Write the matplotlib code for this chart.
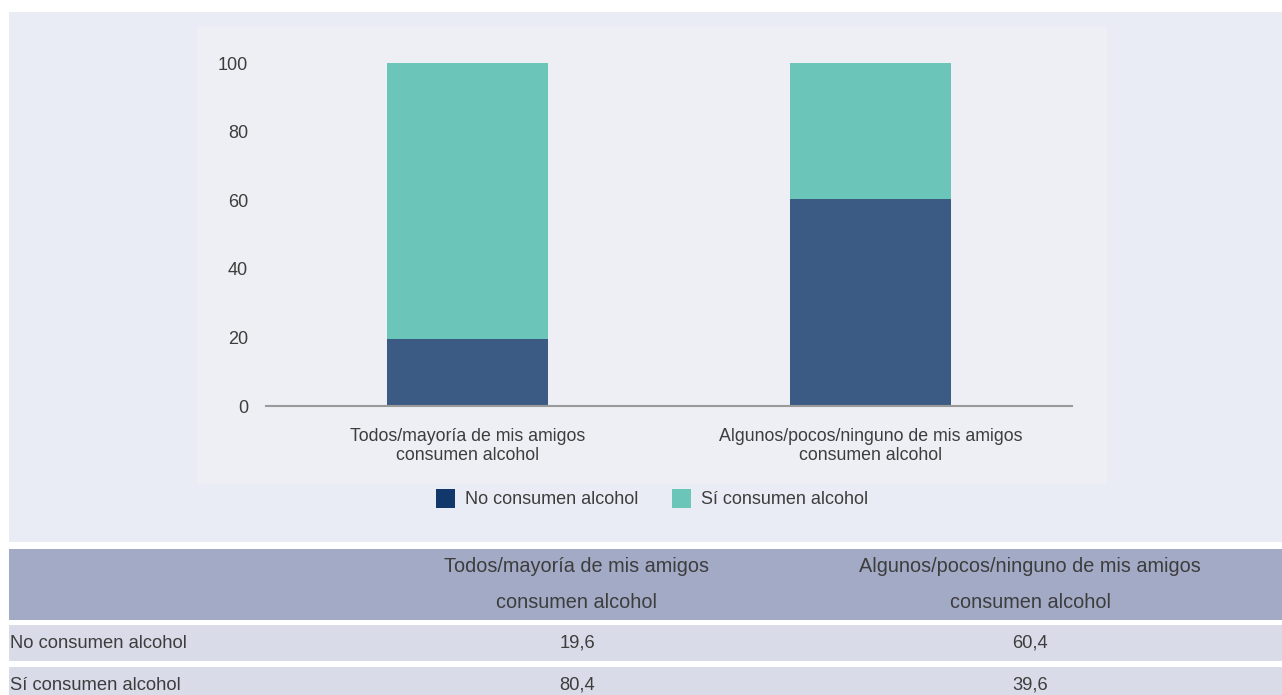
import matplotlib
matplotlib.use("Agg")
import matplotlib.pyplot as plt
from matplotlib.patches import Rectangle

# Data
categories = ["Todos/mayoría de mis amigos\nconsumen alcohol",
              "Algunos/pocos/ninguno de mis amigos\nconsumen alcohol"]
series_names = ["No consumen alcohol", "Sí consumen alcohol"]
no_consumen = [19.6, 60.4]
si_consumen = [80.4, 39.6]
y_ticks = [0, 20, 40, 60, 80, 100]

W, H = 1282, 695
FONT = "Liberation Sans"
TXT = "#3d3d3d"
plt.rcParams["font.family"] = [FONT, "DejaVu Sans"]

fig = plt.figure(figsize=(W / 100, H / 100), dpi=100, facecolor="white")


def px_rect(x0, y0, x1, y1, color, z=-10):
    """Background rectangle given in pixel coordinates (top-left origin)."""
    fig.patches.append(Rectangle((x0 / W, 1 - y1 / H), (x1 - x0) / W, (y1 - y0) / H,
                                 transform=fig.transFigure, facecolor=color,
                                 edgecolor="none", zorder=z))


def px_text(x, y, s, **kw):
    fig.text(x / W, 1 - y / H, s, color=TXT, **kw)


# Panels behind the chart
px_rect(9, 12, W, 542, "#e9ecf4", z=-20)
px_rect(197, 27, 1107, 484, "#eeeff4", z=-15)

# Chart axes
ax_l, ax_r, ax_b, ax_t = 266, 1072, 406, 63
ax = fig.add_axes([ax_l / W, 1 - ax_b / H, (ax_r - ax_l) / W, (ax_b - ax_t) / H])
ax.set_zorder(5)
ax.set_facecolor("none")
x = list(range(len(categories)))
colors = ["#3b5b85", "#6bc6b9"]
ax.bar(x, no_consumen, width=0.4, color=colors[0], zorder=2)
ax.bar(x, si_consumen, width=0.4, bottom=no_consumen, color=colors[1], zorder=2)
ax.set_xlim(-0.5, 1.5)
ax.set_ylim(0, 100)
ax.set_yticks(y_ticks)
ax.set_yticklabels([str(t) for t in y_ticks], fontsize=13, color=TXT)
ax.set_xticks(x)
ax.set_xticklabels(categories, fontsize=12.8, color=TXT, linespacing=1.12)
ax.tick_params(axis="both", length=0)
ax.tick_params(axis="y", pad=13)
ax.tick_params(axis="x", pad=16)
for side in ["top", "right", "left"]:
    ax.spines[side].set_visible(False)
ax.spines["bottom"].set_color("#9a9a9a")
ax.spines["bottom"].set_linewidth(1.5)
ax.spines["bottom"].set_zorder(3)

# Legend
legend_cols = ["#12386b", "#6bc6b9"]
legend_x = [436, 672]
for lx, name, c in zip(legend_x, series_names, legend_cols):
    px_rect(lx, 489, lx + 19, 508, c, z=1)
    px_text(lx + 29, 500, name, fontsize=13, va="center", ha="left")

# Table
header_col = "#a3aac6"
row_col = "#d9dce8"
px_rect(9, 549, W, 620, header_col)
px_rect(9, 625, W, 661, row_col)
px_rect(9, 667, W, H, row_col)

col_centers = [577, 1030]
for cx, cat in zip(col_centers, categories):
    top, bottom = cat.split("\n")
    px_text(cx, 567, top, fontsize=14.3, ha="center", va="center")
    px_text(cx, 602, bottom, fontsize=14.3, ha="center", va="center")

row_y = [643, 685]
row_vals = [no_consumen, si_consumen]
for ry, name, vals in zip(row_y, series_names, row_vals):
    px_text(10, ry, name, fontsize=13.2, ha="left", va="center")
    for cx, v in zip(col_centers, vals):
        px_text(cx, ry, f"{v:.1f}".replace(".", ","), fontsize=13.2,
                ha="center", va="center")

fig.savefig("out.png", dpi=100, facecolor="white")
